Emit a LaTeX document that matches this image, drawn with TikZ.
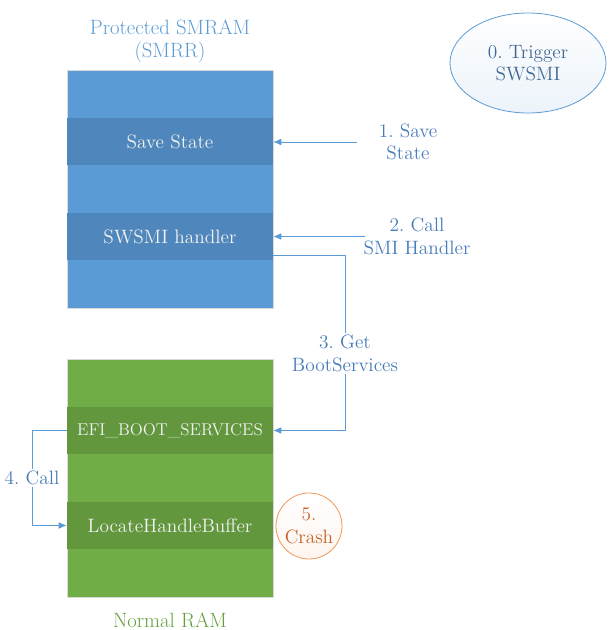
\documentclass[tikz,border=0pt]{standalone}
\usepackage{tikz}
\usetikzlibrary{arrows.meta,shapes.geometric}

\definecolor{smramfill}{RGB}{91,155,213}
\definecolor{smramband}{RGB}{79,134,187}
\definecolor{ramfill}{RGB}{112,173,71}
\definecolor{ramband}{RGB}{98,151,62}
\definecolor{steptext}{RGB}{72,124,186}
\definecolor{trigtext}{RGB}{66,104,150}
\definecolor{ramtext}{RGB}{98,160,58}
\definecolor{crashorange}{RGB}{237,125,49}
\definecolor{crashtext}{RGB}{200,98,38}

\begin{document}
\frenchspacing
\begin{tikzpicture}[x=0.75pt,y=-0.75pt,>={Latex[length=6pt,width=5pt]},
    every node/.style={font=\fontsize{14.5}{17}\selectfont},
    memblock/.style={draw=black!15,line width=0.5pt,minimum width=154.5pt,minimum height=178.5pt,inner sep=0pt},
    band/.style={minimum width=154.5pt,minimum height=35.25pt,inner sep=0pt,text=white!95!black},
    steplabel/.style={text=steptext,align=center,inner sep=1.5pt},
    flow/.style={->,draw=smramfill,line width=0.6pt}]
    \useasboundingbox (0,0) rectangle (608,630);

    % protected memory
    \node[memblock,fill=smramfill] (smram) at (170,189) {};
    \node[band,fill=smramband] (save) at (170,142) {Save State};
    \node[band,fill=smramband] (swsmi) at (170,236.5) {SWSMI handler};
    \node[text=smramfill,align=center,font=\fontsize{15.5}{17.5}\selectfont] (smramtitle) at (170,41) {Protected SMRAM\\(SMRR)};

    % normal memory
    \node[memblock,fill=ramfill] (ram) at (170,478.5) {};
    \node[band,fill=ramband,font=\fontsize{12.8}{15}\selectfont] (efi) at (170,430.5) {EFI\_BOOT\_SERVICES};
    \node[band,fill=ramband] (locate) at (170,525.5) {LocateHandleBuffer};
    \node[text=ramtext,font=\fontsize{15.5}{17.5}\selectfont] (ramtitle) at (170,620) {Normal RAM};

    % trigger and crash
    \node[ellipse,draw=smramfill,line width=0.6pt,minimum width=117pt,minimum height=75pt,
        top color=white,bottom color=smramfill!12,text=trigtext,align=center] (trigger) at (528,63) {0. Trigger\\SWSMI};
    \node[circle,draw=crashorange!80,line width=0.6pt,minimum size=49.5pt,inner sep=0pt,
        top color=white,bottom color=crashorange!8,text=crashtext,align=center] (crash) at (309,526) {5.\\Crash};

    % steps
    \node[steplabel] (savelabel) at (408,142) {1. Save\\State};
    \coordinate (savestart) at (357,142);
    \draw[flow] (savestart) -- (save.east);

    \node[steplabel] (calllabel) at (417,236.5) {2. Call\\SMI Handler};
    \coordinate (callstart) at (365,236.5);
    \draw[flow] (callstart) -- (swsmi.east);

    \coordinate (getstart) at (273,255);
    \draw[flow] (getstart) -- (345,255) |- node[steplabel,fill=white,pos=0.28] (getlabel) {3. Get\\BootServices} (efi.east);

    \draw[flow] (efi.west) -- (32,430.5) |- node[steplabel,fill=white,pos=0.25] (calllabelb) {4. Call} (locate.west);
\end{tikzpicture}
\end{document}
